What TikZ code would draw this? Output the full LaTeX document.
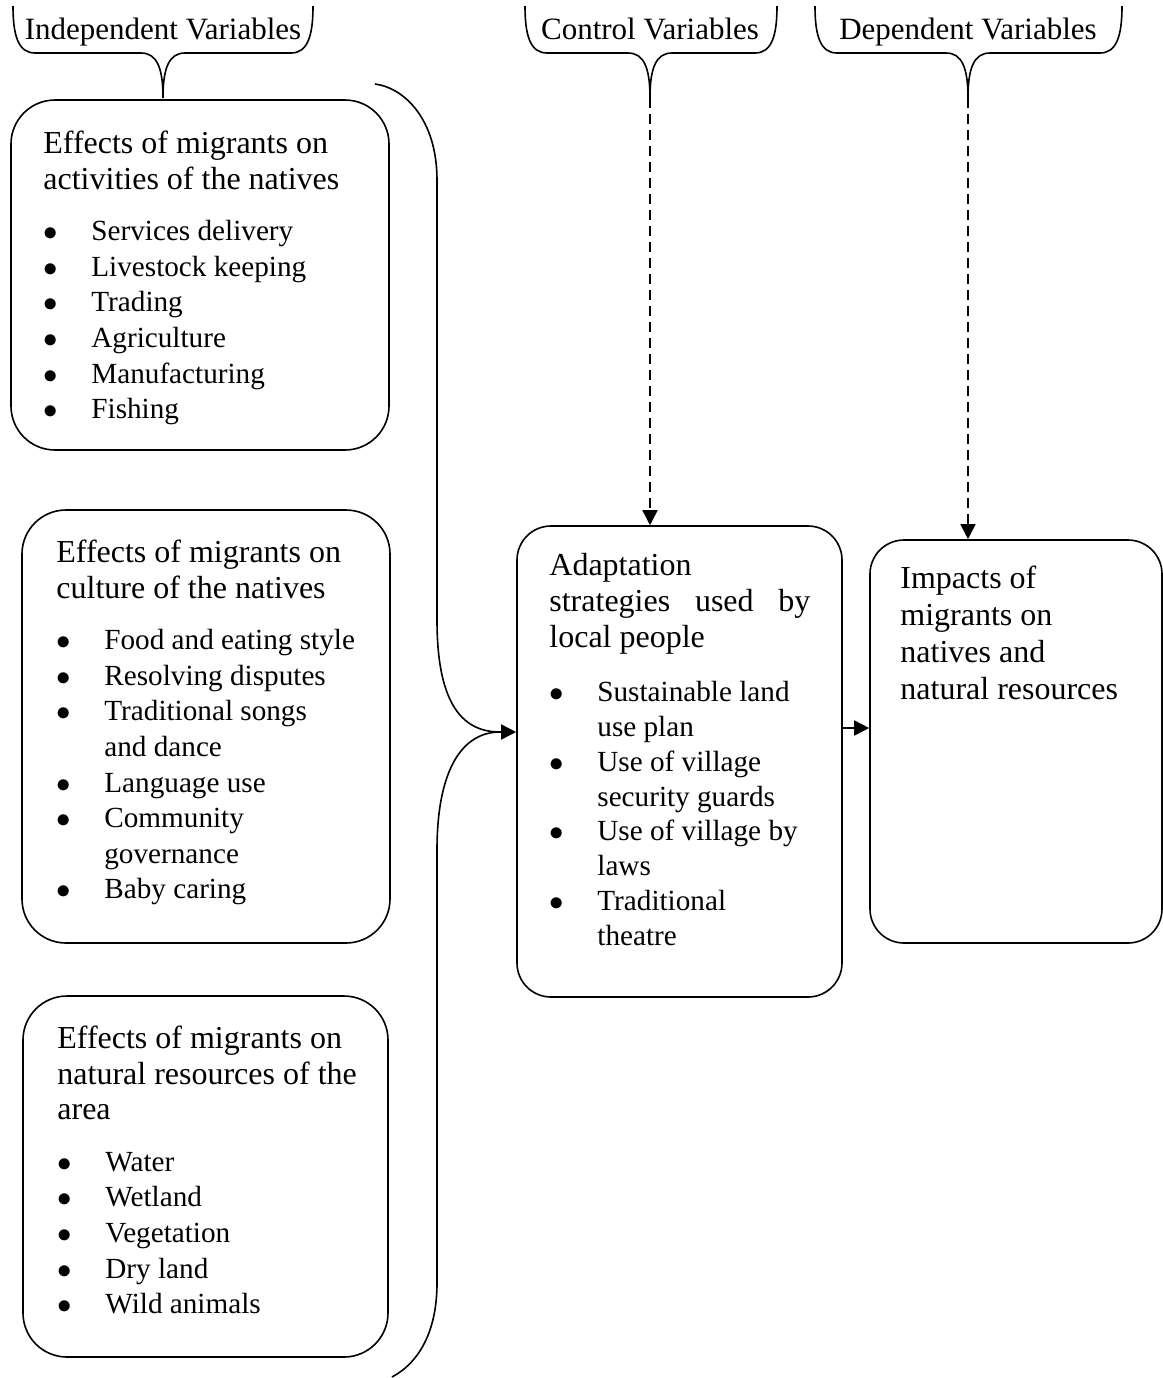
\documentclass[tikz,border=0pt]{standalone}
\usepackage{fontspec}
\setmainfont{Liberation Serif}
\usetikzlibrary{arrows.meta}

\newcommand{\boxtitle}[1]{\multicolumn{2}{@{}l@{}}{#1}}
\newcommand{\itemfont}{\fontsize{14.6}{17.8}\selectfont}
\newcommand{\bitem}[1]{\itemfont$\bullet$ & \itemfont #1}
\newcommand{\bcont}[1]{& \itemfont #1}

\tikzset{
  outline/.style={line width=0.8pt},
  varbox/.style={outline, draw, rounded corners=#1, inner sep=0pt},
  boxtext/.style={anchor=north west, inner sep=0pt, font=\fontsize{16}{17.8}\selectfont},
  vartitle/.style={anchor=base, inner sep=0pt, font=\fontsize{15.5}{17}\selectfont},
  arrowline/.style={outline, -{Triangle[length=7.5pt, width=7.5pt]}},
  dasharrow/.style={arrowline, dash pattern=on 5pt off 3pt}
}

\begin{document}
\begin{tikzpicture}[x=0.5pt, y=-0.5pt]
                \useasboundingbox (0,0) rectangle (1163,1378);

                % Variable braces at the top
                \foreach \lx/\tx/\rx/\nm/\lab in {13/163/313/indep/Independent Variables,
                                                  525/650/777/ctrl/Control Variables,
                                                  815/968/1122/dep/Dependent Variables} {
                    \draw[outline] (\lx,6) .. controls (\lx,35) and (\lx+5,53) .. (\lx+22,53)
                        -- (\tx-22,53) .. controls (\tx-6,53) and (\tx,68) .. (\tx,98)
                        .. controls (\tx,68) and (\tx+6,53) .. (\tx+22,53)
                        -- (\rx-22,53) .. controls (\rx-5,53) and (\rx,35) .. (\rx,6);
                    \coordinate (tip-\nm) at (\tx,98);
                    \node[vartitle] (\nm) at (\tx,39) {\lab};
                }

                % Independent variable boxes
                \node[varbox=22pt, minimum width=189pt, minimum height=175pt] (activ) at (200,275) {};
                \node[varbox=22pt, minimum width=184pt, minimum height=216.5pt] (cult) at (206,726.5) {};
                \node[varbox=22pt, minimum width=182.5pt, minimum height=180.5pt] (natres) at (205.5,1176.5) {};

                \node[boxtext] (activ-txt) at (43,128.1) {\begin{tabular}{@{}p{24pt}@{}l@{}}
                    \boxtitle{Effects of migrants on}\\
                    \boxtitle{activities of the natives}\\[8pt]
                    \bitem{Services delivery}\\
                    \bitem{Livestock keeping}\\
                    \bitem{Trading}\\
                    \bitem{Agriculture}\\
                    \bitem{Manufacturing}\\
                    \bitem{Fishing}
                \end{tabular}};

                \node[boxtext] (cult-txt) at (56,537.1) {\begin{tabular}{@{}p{24pt}@{}l@{}}
                    \boxtitle{Effects of migrants on}\\
                    \boxtitle{culture of the natives}\\[8pt]
                    \bitem{Food and eating style}\\
                    \bitem{Resolving disputes}\\
                    \bitem{Traditional songs}\\
                    \bcont{and dance}\\
                    \bitem{Language use}\\
                    \bitem{Community}\\
                    \bcont{governance}\\
                    \bitem{Baby caring}
                \end{tabular}};

                \node[boxtext] (natres-txt) at (57,1023.1) {\begin{tabular}{@{}p{24pt}@{}l@{}}
                    \boxtitle{Effects of migrants on}\\
                    \boxtitle{natural resources of the}\\
                    \boxtitle{area}\\[8pt]
                    \bitem{Water}\\
                    \bitem{Wetland}\\
                    \bitem{Vegetation}\\
                    \bitem{Dry land}\\
                    \bitem{Wild animals}
                \end{tabular}};

                % Control and dependent variable boxes
                \node[varbox=17pt, minimum width=162.5pt, minimum height=235.5pt] (adapt) at (679.5,761.5) {};
                \node[varbox=17pt, minimum width=146pt, minimum height=201.5pt] (impact) at (1016,741.5) {};

                \node[boxtext, font=\fontsize{16}{17.45}\selectfont] (adapt-txt) at (549,550.6) {\begin{tabular}{@{}p{24pt}@{}l@{}}
                    \boxtitle{Adaptation}\\[0.5pt]
                    \boxtitle{\makebox[130.5pt][s]{strategies used by}}\\[0.5pt]
                    \boxtitle{local people}\\[9.6pt]
                    \bitem{Sustainable land}\\
                    \bcont{use plan}\\
                    \bitem{Use of village}\\
                    \bcont{security guards}\\
                    \bitem{Use of village by}\\
                    \bcont{laws}\\
                    \bitem{Traditional}\\
                    \bcont{theatre}
                \end{tabular}};

                \node[boxtext, font=\fontsize{16}{18.5}\selectfont] (impact-txt) at (900,562.1) {\begin{tabular}{@{}l@{}}
                    Impacts of\\
                    migrants on\\
                    natives and\\
                    natural resources
                \end{tabular}};

                % Big brace joining the independent variables
                \coordinate (bmid) at (500,732);
                \draw[outline] (375,84) .. controls (405,88) and (437,120) .. (437,180)
                    -- (437,620) .. controls (437,700) and (460,732) .. (bmid);
                \draw[outline] (bmid) .. controls (462,732) and (437,770) .. (437,850)
                    -- (437,1283) .. controls (437,1330) and (420,1362) .. (392,1377);
                \draw[arrowline] (bmid) -- (bmid -| adapt.west);

                % Arrows into the adaptation and impact boxes
                \coordinate (link) at (856,728);
                \draw[arrowline] (adapt.east |- link) -- (impact.west |- link);
                \draw[dasharrow] (tip-ctrl) -- (tip-ctrl |- adapt.north);
                \draw[dasharrow] (tip-dep) -- (tip-dep |- impact.north);
            \end{tikzpicture}
\end{document}
